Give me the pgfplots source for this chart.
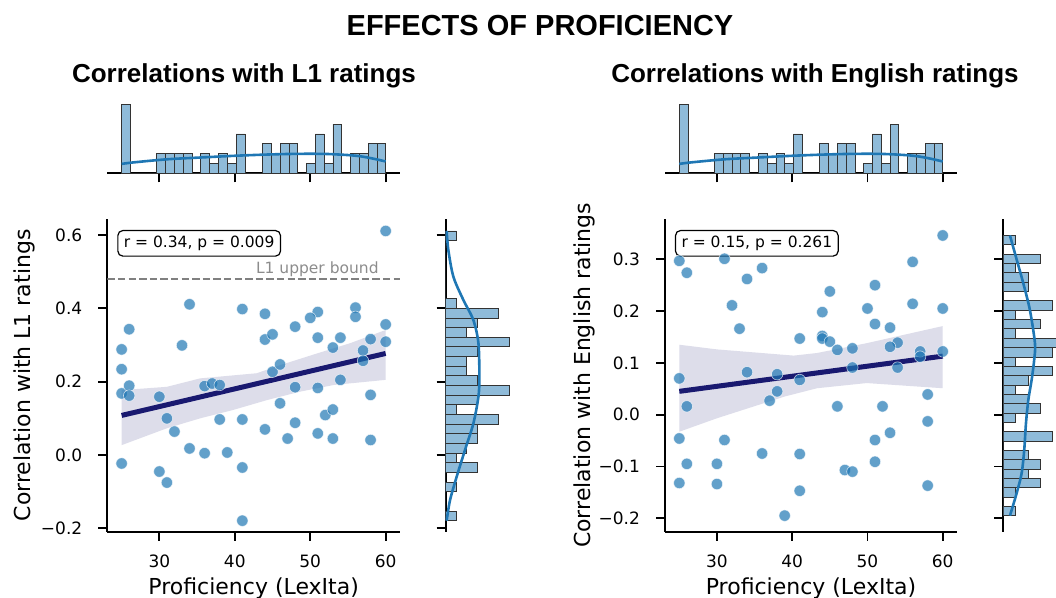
\documentclass[border=0pt]{standalone}
\usepackage{fontspec}
\setmainfont{DejaVu Sans}
\newfontfamily\arialfont{Liberation Sans}
\usepackage{pgfplots}
\pgfplotsset{compat=1.18}

\definecolor{sblue}{HTML}{1F77B4}
\definecolor{navy}{HTML}{191970}

\pgfplotsset{
  jbase/.style={
    scale only axis,
    axis line style={-, line width=0.9pt},
    tick style={black, line width=0.9pt},
    major tick length=4.5pt,
    tick align=outside,
    ticklabel style={font=\fontsize{8.5}{10}\selectfont},
    xticklabel style={yshift=-3.5pt},
    yticklabel style={xshift=-4.5pt},
    label style={font=\fontsize{11}{13}\selectfont},
  },
  mainax/.style={axis lines=left, jbase, width=146.35pt, height=156.35pt,
    xmin=23.1, xmax=61.9, xtick={30,40,50,60}, xticklabels={30,40,50,60},
    xlabel={Proficiency (LexIta)},
    xlabel style={at={(axis description cs:0.5,-0.2024)}, anchor=base}},
  topm/.style={axis x line=bottom, axis y line=none, jbase, width=146.35pt, height=36.2pt,
    xmin=23.1, xmax=61.9, ymin=0, ymax=7.35, xtick={30,40,50,60}, xticklabels={}},
  rightm/.style={axis y line=left, axis x line=none, jbase, width=33.25pt, height=156.35pt,
    xmin=0, yticklabels={}},
  hist/.style={fill=sblue!50, draw=black!80, line width=0.35pt},
  kde/.style={sblue, line width=1.3pt, smooth},
  scat/.style={only marks, mark=*, mark size=2.85pt,
    mark options={fill=sblue, draw=white, line width=0.3pt, opacity=0.7}},
  band/.style={fill=navy, fill opacity=0.15, draw=none},
  reg/.style={navy, line width=2.5pt},
}
\tikzset{
  note/.style={draw, rounded corners=2.5pt, line width=0.6pt, anchor=north west, fill=white,
    inner xsep=3pt, inner ysep=2.5pt, text height=5.9pt, text depth=1.9pt,
    font=\fontsize{7.75}{9}\selectfont},
}

\begin{document}
\begin{tikzpicture}

% titles
\node[font=\arialfont\bfseries\fontsize{14.5}{17}\selectfont, anchor=base] at (270pt,281pt) {EFFECTS OF PROFICIENCY};
\node[font=\arialfont\bfseries\fontsize{13}{15}\selectfont, anchor=base] at (122pt,257.5pt) {Correlations with L1 ratings};
\node[font=\arialfont\bfseries\fontsize{13}{15}\selectfont, anchor=base] at (407.5pt,257.5pt) {Correlations with English ratings};

% ---------- left: L1 ----------
\begin{axis}[mainax, at={(53.65pt,33.15pt)}, anchor=south west,
    ymin=-0.209, ymax=0.6436, ytick={-0.2,0,0.2,0.4,0.6},
    yticklabels={−0.2,0.0,0.2,0.4,0.6},
    ylabel={Correlation with L1 ratings},
    ylabel style={at={(axis description cs:-0.2617,0.5)}, anchor=base}]
\addplot[black!50, line width=0.9pt, dash pattern=on 3.7pt off 1.6pt] coordinates {(23.1,0.48) (61.9,0.48)};
\node[anchor=base east, text=black!45, font=\fontsize{7.75}{9}\selectfont] at (axis cs:60,0.496) {L1 upper bound};
\addplot[scat] coordinates {
 (60,0.611) (34,0.411) (41,0.398) (44,0.385) (51,0.390) (50,0.374) (56,0.402) (56,0.377)
 (26,0.343) (25,0.288) (25,0.234) (25,0.168) (25,-0.023) (26,0.189) (26,0.162) (33,0.299)
 (30,0.159) (31,0.100) (32,0.064) (34,0.018) (30,-0.045) (31,-0.075) (36,0.005) (36,0.188)
 (37,0.195) (38,0.191) (38,0.097) (39,0.007) (41,0.097) (41,-0.034) (41,-0.179) (44,0.315)
 (45,0.329) (45,0.227) (46,0.247) (46,0.141) (44,0.070) (47,0.045) (48,0.088) (48,0.185)
 (48,0.350) (51,0.320) (51,0.183) (51,0.059) (52,0.109) (53,0.124) (53,0.293) (54,0.320)
 (54,0.205) (53,0.045) (57,0.285) (57,0.257) (58,0.316) (58,0.164) (58,0.041) (60,0.356)
 (60,0.309)};
\addplot[band] coordinates {
 (25,0.177) (31,0.186) (35.4,0.209) (42.9,0.223) (46,0.245) (50.9,0.277) (55.3,0.305) (60,0.341)
 (60,0.205) (53.1,0.191) (48.7,0.173) (44.3,0.150) (39.8,0.123) (35.4,0.100) (31,0.073) (25,0.027)} -- cycle;
\addplot[reg] coordinates {(25,0.108) (60,0.277)};
\node[note] at (rel axis cs:0.034,0.965) {r = 0.34, p = 0.009};
\end{axis}

\begin{axis}[topm, at={(53.65pt,212.35pt)}, anchor=south west]
\addplot[ybar interval, hist] coordinates {
 (25,7) (26.167,0) (27.333,0) (28.5,0) (29.667,2) (30.833,2) (32,2) (33.167,2) (34.333,0) (35.5,2)
 (36.667,1) (37.833,2) (39,1) (40.167,4) (41.333,0) (42.5,0) (43.667,3) (44.833,2) (46,3) (47.167,3)
 (48.333,0) (49.5,1) (50.667,4) (51.833,1) (53,5) (54.167,0) (55.333,2) (56.5,2) (57.667,3) (58.833,3)
 (60,0)};
\addplot[kde] coordinates {
 (25,0.95) (26.5,1.1) (31,1.42) (35.4,1.6) (39.8,1.77) (43.4,1.88) (46.5,1.95) (49.6,1.98)
 (52.2,1.96) (55,1.85) (56.7,1.72) (58.4,1.48) (60,1.2)};
\end{axis}

\begin{axis}[rightm, at={(222.85pt,33.15pt)}, anchor=south west,
    xmax=6.3, ymin=-0.209, ymax=0.6436, ytick={-0.2,0,0.2,0.4,0.6}]
\addplot[xbar interval, hist] coordinates {
 (1,-0.179) (0,-0.1527) (0,-0.1263) (1,-0.1) (0,-0.0737) (3,-0.0473) (1,-0.021) (2,0.0053)
 (3,0.0317) (3,0.058) (5,0.0843) (1,0.1107) (3,0.137) (6,0.1633) (3,0.1897) (2,0.216)
 (2,0.2423) (3,0.2687) (6,0.295) (2,0.3213) (3,0.3477) (5,0.374) (1,0.4003) (0,0.4267)
 (0,0.453) (0,0.4793) (0,0.5057) (0,0.532) (0,0.5583) (1,0.5847) (0,0.611)};
\addplot[kde] coordinates {
 (0.09,0.611) (0.25,0.559) (0.73,0.486) (1.67,0.423) (2.62,0.368) (3.1,0.305) (3.19,0.214)
 (3.1,0.159) (2.62,0.086) (1.83,0.014) (1.04,-0.059) (0.41,-0.123) (0.09,-0.179)};
\end{axis}

% ---------- right: English ----------
\begin{axis}[mainax, at={(332.5pt,33.15pt)}, anchor=south west, width=146pt,
    ymin=-0.226, ymax=0.3778, ytick={-0.2,-0.1,0,0.1,0.2,0.3},
    yticklabels={−0.2,−0.1,0.0,0.1,0.2,0.3},
    ylabel={Correlation with English ratings},
    ylabel style={at={(axis description cs:-0.2545,0.5)}, anchor=base}]
\addplot[scat] coordinates {
 (60,0.346) (25,0.297) (26,0.274) (31,0.301) (36,0.283) (34,0.262) (32,0.211) (33,0.166)
 (45,0.238) (44,0.198) (44,0.152) (44,0.147) (45,0.141) (41,0.147) (41,0.067) (41,-0.076)
 (41,-0.147) (51,0.250) (50,0.205) (51,0.175) (53,0.168) (56,0.295) (56,0.214) (60,0.205)
 (60,0.122) (57,0.122) (57,0.112) (54,0.139) (53,0.131) (54,0.091) (48,0.128) (48,0.091)
 (46,0.125) (46,0.016) (25,0.070) (25,-0.046) (25,-0.132) (26,0.016) (26,-0.095) (30,-0.095)
 (30,-0.134) (31,-0.049) (34,0.082) (36,-0.075) (37,0.027) (38,0.045) (38,0.078) (39,-0.195)
 (47,-0.107) (48,-0.110) (51,-0.049) (51,-0.091) (52,0.016) (53,-0.035) (58,0.039) (58,-0.013)
 (58,-0.137)};
\addplot[band] coordinates {
 (25,0.135) (30,0.126) (40.2,0.114) (43.3,0.119) (49.9,0.138) (60,0.171)
 (60,0.051) (49.9,0.061) (43.3,0.051) (39,0.035) (30,-0.007) (25,-0.033)} -- cycle;
\addplot[reg] coordinates {(25,0.045) (60,0.113)};
\node[note] at (rel axis cs:0.034,0.965) {r = 0.15, p = 0.261};
\end{axis}

\begin{axis}[topm, at={(332.5pt,212.35pt)}, anchor=south west, width=146pt]
\addplot[ybar interval, hist] coordinates {
 (25,7) (26.167,0) (27.333,0) (28.5,0) (29.667,2) (30.833,2) (32,2) (33.167,2) (34.333,0) (35.5,2)
 (36.667,1) (37.833,2) (39,1) (40.167,4) (41.333,0) (42.5,0) (43.667,3) (44.833,2) (46,3) (47.167,3)
 (48.333,0) (49.5,1) (50.667,4) (51.833,1) (53,5) (54.167,0) (55.333,2) (56.5,2) (57.667,3) (58.833,3)
 (60,0)};
\addplot[kde] coordinates {
 (25,0.95) (26.5,1.1) (31,1.42) (35.4,1.6) (39.8,1.77) (43.4,1.88) (46.5,1.95) (49.6,1.98)
 (52.2,1.96) (55,1.85) (56.7,1.72) (58.4,1.48) (60,1.2)};
\end{axis}

\begin{axis}[rightm, at={(501.65pt,33.15pt)}, anchor=south west,
    xmax=5.4, ymin=-0.226, ymax=0.3778, ytick={-0.2,-0.1,0,0.1,0.2,0.3}]
\addplot[xbar interval, hist] coordinates {
 (1,-0.195) (0,-0.177) (1,-0.1589) (3,-0.1409) (2,-0.1229) (3,-0.1048) (2,-0.0868) (0,-0.0688)
 (4,-0.0507) (0,-0.0327) (1,-0.0147) (3,0.0034) (2,0.0214) (1,0.0394) (2,0.0575) (4,0.0755)
 (1,0.0935) (4,0.1116) (5,0.1296) (1,0.1476) (3,0.1657) (1,0.1837) (4,0.2017) (0,0.2198)
 (2,0.2378) (2,0.2558) (1,0.2739) (3,0.2919) (0,0.3099) (1,0.328) (0,0.346)};
\addplot[kde] coordinates {
 (0.54,0.346) (1.08,0.3) (1.62,0.254) (2.16,0.202) (2.57,0.138) (2.51,0.106) (2.3,0.067)
 (2.03,0.028) (1.84,-0.017) (1.7,-0.068) (1.49,-0.113) (1.08,-0.152) (0.54,-0.195)};
\end{axis}

\pgfresetboundingbox
\path[use as bounding box] (0,0) rectangle (528pt,299pt);
\end{tikzpicture}
\end{document}
